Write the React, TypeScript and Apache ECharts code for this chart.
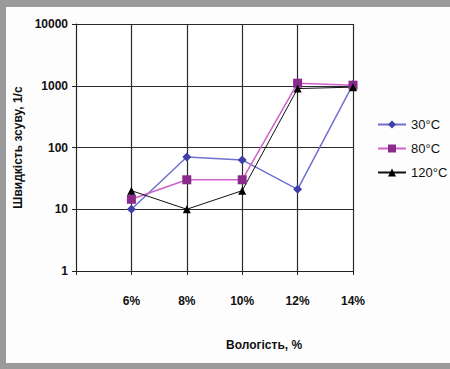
import React, { useEffect, useRef } from "react";
import * as echarts from "echarts";

const categories = ["", "6%", "8%", "10%", "12%", "14%"];
const s30 = [null, 10, 70, 63, 21, 1050];
const s80 = [null, 14.5, 30, 30, 1100, 1020];
const s120 = [null, 20, 10, 20, 900, 950];
const seriesNames = ["30°C", "80°C", "120°C"];

export default function App() {
  const ref = useRef<HTMLDivElement>(null);
  useEffect(() => {
    const chart = echarts.init(ref.current!, null, { renderer: "svg" });
    const font = "'Liberation Sans', Arial, sans-serif";
    chart.setOption({
      animation: false,
      backgroundColor: "#fdfdfd",
      textStyle: { fontFamily: font },
      graphic: [
        { type: "rect", left: 0, top: 0, shape: { width: 450, height: 7 }, style: { fill: "#9a9a9a" } },
        { type: "rect", left: 0, top: 0, shape: { width: 6, height: 369 }, style: { fill: "#9a9a9a" } },
        { type: "rect", left: 0, top: 363, shape: { width: 450, height: 6 }, style: { fill: "#9a9a9a" } },
        {
          type: "text",
          left: 226,
          top: 339,
          style: { text: "Вологість, %", font: "bold 12px " + font, fill: "#111" },
        },
      ],
      grid: { left: 76, right: 97, top: 24, bottom: 98, show: true, backgroundColor: "#ffffff", borderWidth: 0 },
      legend: {
        orient: "vertical",
        left: 372,
        top: 113,
        itemGap: 11,
        itemWidth: 28,
        itemHeight: 10,
        textStyle: { fontFamily: font, fontSize: 13, color: "#111" },
        data: seriesNames,
      },
      xAxis: {
        type: "category",
        data: categories,
        boundaryGap: false,
        axisLine: { lineStyle: { color: "#222", width: 1 } },
        axisTick: { show: true, length: 4, lineStyle: { color: "#222" } },
        axisLabel: { fontFamily: font, fontSize: 12, fontWeight: "bold", color: "#111", margin: 24 },
        splitLine: { show: true, lineStyle: { color: "#2a2a2a", width: 1.2 } },
      },
      yAxis: {
        type: "log",
        logBase: 10,
        min: 1,
        max: 10000,
        name: "Швидкість зсуву, 1/с",
        nameLocation: "middle",
        nameGap: 52,
        nameTextStyle: { fontFamily: font, fontSize: 12, fontWeight: "bold", color: "#111" },
        axisLine: { show: true, lineStyle: { color: "#222" } },
        axisTick: { show: true, length: 4, lineStyle: { color: "#222" } },
        axisLabel: {
          fontFamily: font,
          fontSize: 12,
          fontWeight: "bold",
          color: "#111",
          margin: 8,
          formatter: (v: number) => String(Math.round(v)),
        },
        splitLine: { show: true, lineStyle: { color: "#2a2a2a", width: 1.2 } },
        minorTick: { show: false },
      },
      series: [
        {
          name: seriesNames[0],
          type: "line",
          data: s30,
          symbol: "diamond",
          symbolSize: 9,
          lineStyle: { color: "#7070d0", width: 1.5 },
          itemStyle: { color: "#4040a8" },
        },
        {
          name: seriesNames[1],
          type: "line",
          data: s80,
          symbol: "rect",
          symbolSize: 9,
          lineStyle: { color: "#d060c8", width: 1.5 },
          itemStyle: { color: "#8a2a8a" },
        },
        {
          name: seriesNames[2],
          type: "line",
          data: s120,
          symbol: "triangle",
          symbolSize: 8,
          lineStyle: { color: "#111", width: 1 },
          itemStyle: { color: "#000" },
        },
      ],
    });
    return () => chart.dispose();
  }, []);
  return <div ref={ref} style={{ width: 450, height: 369, position: "absolute", left: 0, top: 0 }} />;
}
